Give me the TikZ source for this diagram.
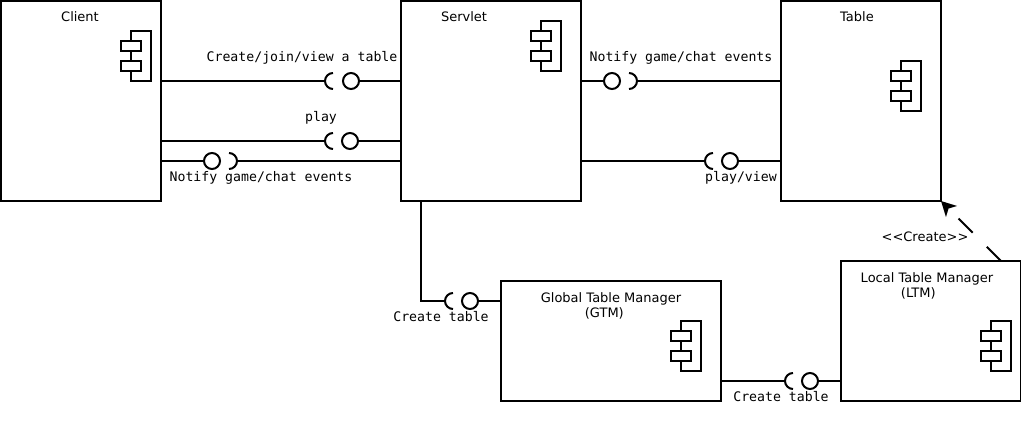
\documentclass[tikz,border=0pt]{standalone}
\usepackage{fontspec}
\setmainfont{DejaVu Sans}
\setmonofont{DejaVu Sans Mono}
\usetikzlibrary{positioning, arrows.meta}

\begin{document}
\begin{tikzpicture}[x=0.75pt, y=-0.75pt]
	\tikzset{
		>=Stealth,
		box/.style={draw, line width=1.5pt, outer sep=0pt, inner sep=0pt, fill=white},
		ball/.style={draw, circle, line width=1.5pt, minimum size=12pt, inner sep=0pt, outer sep=0pt, fill=white},
		link/.style={line width=1.5pt},
		title/.style={font=\fontsize{9.75pt}{11.25pt}\selectfont, align=center, inner sep=0pt},
		label/.style={font=\ttfamily\fontsize{9.9pt}{11.25pt}\selectfont, inner sep=0pt},
		compicon/.pic={
			\draw[link] (0,0) rectangle (20,50);
			\draw[link, fill=white] (-10,10) rectangle (10,20);
			\draw[link, fill=white] (-10,30) rectangle (10,40);
		},
		socket/.pic={
			\draw[link] (0,0) arc[start angle=180, end angle=90, radius=6pt];
			\draw[link] (0,0) arc[start angle=180, end angle=270, radius=6pt];
		}
	}
	\useasboundingbox (0,0) rectangle (1021,444);

	% Boxes
	\node[box, minimum width=120pt, minimum height=150pt, anchor=north west] (client) at (1,1) {};
	\node[box, minimum width=135pt, minimum height=150pt, right=180pt of client] (servlet) {};
	\node[box, minimum width=120pt, minimum height=150pt, right=150pt of servlet] (table) {};
	\node[box, minimum width=165pt, minimum height=90pt, anchor=north west] (gtm) at (501,281) {};
	\node[box, minimum width=135pt, minimum height=105pt, anchor=north west] (ltm) at (841,261) {};

	% Box titles
	\node[title] (clientname) at (80,17) {Client};
	\node[title] (servletname) at (464,17) {Servlet};
	\node[title] (tablename) at (857,17) {Table};
	\node[title, anchor=north] (gtmname) at (611,292) {Global Table Manager\\(GTM)\hspace*{10pt}};
	\node[title, anchor=north] (ltmname) at (927,272) {Local Table Manager\\(LTM)\hspace*{13pt}};

	% Component icons
	\pic at ([shift={(-30,30)}]client.north east) {compicon};
	\pic at ([shift={(-40,20)}]servlet.north east) {compicon};
	\pic at ([shift={(-40,60)}]table.north east) {compicon};
	\pic at ([shift={(-40,40)}]gtm.north east) {compicon};
	\pic at ([shift={(-30,60)}]ltm.north east) {compicon};

	% Balls and sockets
	\node[ball] (createball) at (351,81) {};
	\coordinate (createsocket) at (325,81);
	\node[ball] (playball) at (350,141) {};
	\coordinate (playsocket) at (325,141);
	\node[ball] (notifyball) at (212,161) {};
	\coordinate (notifysocket) at (237,161);
	\node[ball] (eventball) at (612,81) {};
	\coordinate (eventsocket) at (637,81);
	\node[ball] (viewball) at (730,161) {};
	\coordinate (viewsocket) at (705,161);
	\node[ball] (gtmball) at (470,301) {};
	\coordinate (gtmsocket) at (445,301);
	\node[ball] (ltmball) at (810,381) {};
	\coordinate (ltmsocket) at (785,381);

	\pic at (createsocket) {socket};
	\pic at (playsocket) {socket};
	\pic[rotate=180] at (notifysocket) {socket};
	\pic[rotate=180] at (eventsocket) {socket};
	\pic at (viewsocket) {socket};
	\pic at (gtmsocket) {socket};
	\pic at (ltmsocket) {socket};

	% Connectors
	\draw[link] (client.east |- createsocket) -- (createsocket);
	\draw[link] (createball) -- (servlet.west |- createball);
	\draw[link] (client.east |- playsocket) -- (playsocket);
	\draw[link] (playball) -- (servlet.west |- playball);
	\draw[link] (client.east |- notifyball) -- (notifyball);
	\draw[link] (notifysocket) -- (servlet.west |- notifysocket);
	\draw[link] (servlet.east |- eventball) -- (eventball);
	\draw[link] (eventsocket) -- (table.west |- eventsocket);
	\draw[link] (servlet.east |- viewsocket) -- (viewsocket);
	\draw[link] (viewball) -- (table.west |- viewball);
	\coordinate (servletdown) at (421,201);
	\draw[link] (servletdown) |- (gtmsocket);
	\draw[link] (gtmball) -- (gtm.west |- gtmball);
	\draw[link] (gtm.east |- ltmsocket) -- (ltmsocket);
	\draw[link] (ltmball) -- (ltm.west |- ltmball);
	\coordinate (ltmtop) at (1001,261);
	\draw[link, dash pattern=on 15pt off 15pt, -{Stealth[length=11pt, width=11.5pt, inset=3pt]}] (ltmtop) -- (table.south east);

	% Connector labels
	\node[label] (createlabel) at (302,58) {Create/join/view a table};
	\node[label] (playlabel) at (321,118) {play};
	\node[label] (notifylabel) at (261,178) {Notify game/chat events};
	\node[label] (eventlabel) at (681,58) {Notify game/chat events};
	\node[label] (viewlabel) at (741,178) {play/view};
	\node[label] (gtmlabel) at (441,317) {Create table};
	\node[label] (ltmlabel) at (781,397) {Create table};
	\node[title] (createstereo) at (925,237) {<{}<Create>{}>};
\end{tikzpicture}
\end{document}
